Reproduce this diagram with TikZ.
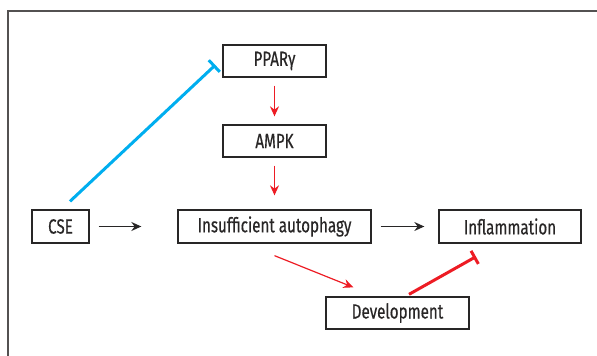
\documentclass[tikz,border=0pt]{standalone}
\usepackage{fontspec}
\setmainfont[FakeStretch=0.74,FakeBold=0.4]{Fira Sans}
\usetikzlibrary{arrows.meta}
\definecolor{inkred}{RGB}{237,28,36}
\definecolor{inkblue}{RGB}{0,174,239}
\definecolor{inkgray}{RGB}{40,38,38}
\tikzset{
  box/.style={draw=inkgray, line width=1.3pt, fill=white, inner sep=0pt,
    minimum height=32pt, font=\fontsize{20.5}{22}\selectfont, text=inkgray},
  blackarrow/.style={draw=inkgray, line width=1.3pt, -{Stealth[length=10pt,width=9pt]}},
  redarrow/.style={draw=inkred, line width=1.2pt, -{Stealth[length=10pt,width=9pt]}},
  redblock/.style={draw=inkred, line width=3pt, -{Bar[width=15pt]}},
  blueblock/.style={draw=inkblue, line width=3pt, -{Bar[width=16pt]}}
}
\begin{document}
\begin{tikzpicture}[x=1pt,y=-1pt]
\useasboundingbox (0,0) rectangle (597,356);
\draw[draw=inkgray!80, line width=1.5pt] (8,356)--(8,11)--(597,11);
\node[box, minimum width=103pt] (ppar) at (274.5,61) {PPARγ};
\node[box, minimum width=103pt] (ampk) at (274.5,141) {AMPK};
\node[box, minimum width=57pt, minimum height=33pt] (cse) at (60.5,226.5) {CSE};
\node[box, minimum width=193pt, minimum height=33pt] (insuf) at (274.5,226.5) {Insufficient autophagy};
\node[box, minimum width=142pt, minimum height=33pt] (infl) at (510,226.5) {Inflammation};
\node[box, minimum width=143pt] (dev) at (397.5,313) {Development};
\draw[redarrow, shorten <=8pt, shorten >=8pt] (ppar)--(ampk);
\draw[redarrow, shorten <=8pt, shorten >=14pt] (ampk)--(insuf);
\draw[blackarrow, shorten <=9pt, shorten >=36pt] (cse)--(insuf);
\draw[blackarrow, shorten <=9pt, shorten >=14pt] (insuf)--(infl);
\draw[redarrow] ([yshift=-12pt]insuf.south)--([xshift=28pt,yshift=9pt]dev.north west);
\draw[redblock] ([xshift=11.5pt,yshift=2pt]dev.north)--([xshift=-34pt,yshift=-13pt]infl.south);
\draw[blueblock] ([xshift=9.5pt,yshift=8pt]cse.north)--([xshift=-7pt,yshift=-4pt]ppar.west);
\end{tikzpicture}
\end{document}
